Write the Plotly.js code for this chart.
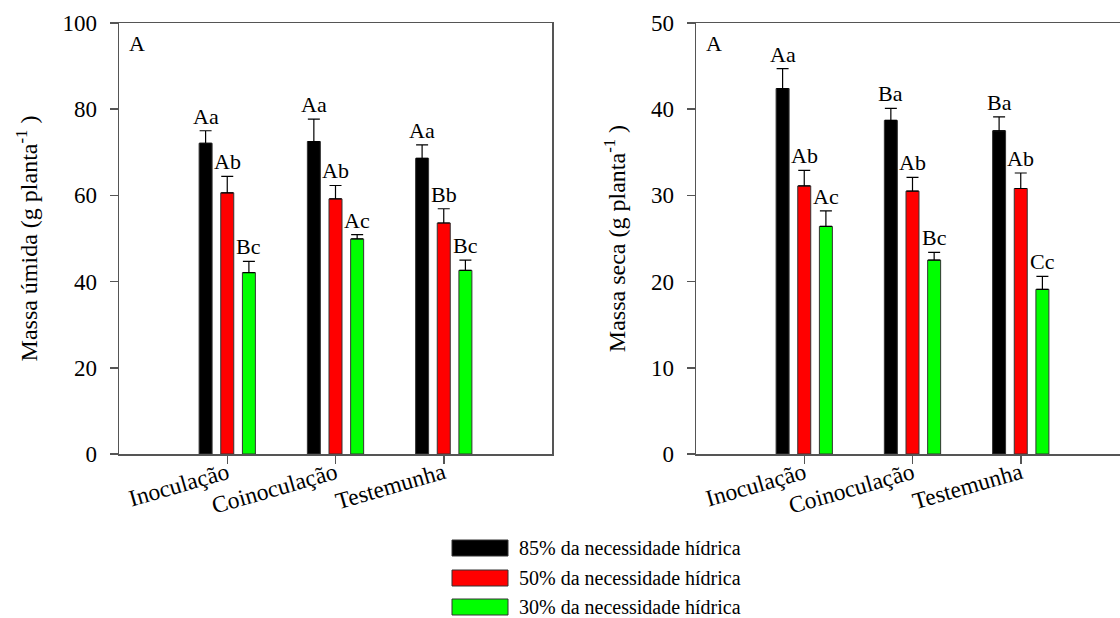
<!DOCTYPE html>
<html>
<head>
<meta charset="utf-8">
<script src="https://cdn.plot.ly/plotly-3.0.1.min.js"></script>
<style>
  html, body { margin: 0; padding: 0; overflow: hidden; background: #fff; }
  #chart { width: 1140px; height: 618px; }
</style>
</head>
<body>
<div id="chart"></div>
<script>
// Treatments on the x axis
const categories = ['Inoculação', 'Coinoculação', 'Testemunha'];

// Water-supply levels (one bar series each)
const seriesNames = ['85% da necessidade hídrica', '50% da necessidade hídrica', '30% da necessidade hídrica'];
const seriesColors = ['#000000', '#ff0000', '#00ff00'];

// Fresh mass (g planta-1): means and upper error
const umida85 = [72.1, 72.5, 68.6];
const umida50 = [60.6, 59.2, 53.6];
const umida30 = [42.1, 49.9, 42.6];
const umidaErr85 = [2.9, 5.2, 3.1];
const umidaErr50 = [3.8, 3.1, 3.3];
const umidaErr30 = [2.6, 1.0, 2.4];
const umidaLetters85 = ['Aa', 'Aa', 'Aa'];
const umidaLetters50 = ['Ab', 'Ab', 'Bb'];
const umidaLetters30 = ['Bc', 'Ac', 'Bc'];

// Dry mass (g planta-1): means and upper error
const seca85 = [42.4, 38.7, 37.5];
const seca50 = [31.1, 30.5, 30.8];
const seca30 = [26.4, 22.5, 19.1];
const secaErr85 = [2.3, 1.4, 1.6];
const secaErr50 = [1.8, 1.6, 1.8];
const secaErr30 = [1.8, 0.9, 1.5];
const secaLetters85 = ['Aa', 'Ba', 'Ba'];
const secaLetters50 = ['Ab', 'Ab', 'Ab'];
const secaLetters30 = ['Ac', 'Bc', 'Cc'];

const panels = [
  { xa: 'x', ya: 'y', values: [umida85, umida50, umida30], errs: [umidaErr85, umidaErr50, umidaErr30], letters: [umidaLetters85, umidaLetters50, umidaLetters30] },
  { xa: 'x2', ya: 'y2', values: [seca85, seca50, seca30], errs: [secaErr85, secaErr50, secaErr30], letters: [secaLetters85, secaLetters50, secaLetters30] }
];

const FONT = '"Liberation Serif", "Times New Roman", serif';
const AXIS_COLOR = '#555555';
const OUTLINE = '#333333';

// Plot-area geometry in pixels
const W = 1140, H = 618;
const M = { l: 119, r: 11, t: 23, b: 164 };
const plotW = W - M.l - M.r;
const plotH = H - M.t - M.b;
const panelW = 433;

const traces = [];
const annotations = [];

panels.forEach(function (p) {
  p.values.forEach(function (vals, j) {
    traces.push({
      type: 'bar',
      x: categories,
      y: vals,
      name: seriesNames[j],
      xaxis: p.xa,
      yaxis: p.ya,
      showlegend: false,
      marker: { color: seriesColors[j], line: { color: OUTLINE, width: 1 } },
      error_y: {
        type: 'data',
        symmetric: false,
        array: p.errs[j],
        arrayminus: vals.map(function () { return 0; }),
        color: '#000000',
        thickness: 1.2,
        width: 6
      },
      hoverinfo: 'x+y'
    });
    // Significance letters above each error bar
    vals.forEach(function (v, i) {
      annotations.push({
        xref: p.xa, yref: p.ya,
        x: i + (j - 1) * 0.2,
        y: v + p.errs[j][i],
        yanchor: 'bottom', xanchor: 'center',
        yshift: 0,
        text: p.letters[j][i],
        showarrow: false,
        font: { family: FONT, size: 22, color: '#000' }
      });
    });
  });
  // Panel letter in the upper-left corner
  annotations.push({
    xref: p.xa + ' domain', yref: p.ya + ' domain',
    x: 0.018, y: 0.985, xanchor: 'left', yanchor: 'top',
    text: 'A', showarrow: false,
    font: { family: FONT, size: 22, color: '#000' }
  });
});

// Legend drawn as wide swatches with labels below the panels
const legendRowsPx = [548, 578, 607];
const swatchLeftPx = 452, swatchRightPx = 508, swatchH = 16, textLeftPx = 517;
const shapes = [];
const px2paperX = function (px) { return (px - M.l) / plotW; };
const px2paperY = function (py) { return (H - M.b - py) / plotH; };
seriesNames.forEach(function (name, j) {
  const cy = legendRowsPx[j];
  shapes.push({
    type: 'rect', xref: 'paper', yref: 'paper',
    x0: px2paperX(swatchLeftPx), x1: px2paperX(swatchRightPx),
    y0: px2paperY(cy + swatchH / 2), y1: px2paperY(cy - swatchH / 2),
    fillcolor: seriesColors[j], line: { color: OUTLINE, width: 1 }
  });
  annotations.push({
    xref: 'paper', yref: 'paper',
    x: px2paperX(textLeftPx), y: px2paperY(cy),
    xanchor: 'left', yanchor: 'middle',
    text: name, showarrow: false,
    font: { family: FONT, size: 20, color: '#000' }
  });
});

function xAxis(domain, anchor) {
  return {
    domain: domain, anchor: anchor,
    type: 'category',
    range: [-1, 3],
    showline: true, mirror: true, linecolor: AXIS_COLOR, linewidth: 1.5,
    ticks: 'outside', ticklen: 8, tickcolor: AXIS_COLOR, tickwidth: 1.5,
    tickangle: -16,
    ticklabelstandoff: -13,
    tickfont: { family: FONT, size: 23.5, color: '#000' },
    showgrid: false, zeroline: false, automargin: false, fixedrange: true
  };
}
function yAxis(range, dtick, titleText, anchor) {
  return {
    anchor: anchor, domain: [0, 1],
    range: range, dtick: dtick,
    showline: true, mirror: true, linecolor: AXIS_COLOR, linewidth: 1.5,
    ticks: 'outside', ticklen: 8, tickcolor: AXIS_COLOR, tickwidth: 1.5,
    ticklabelstandoff: 8,
    tickfont: { family: FONT, size: 23, color: '#000' },
    title: { text: titleText, standoff: 18, font: { family: FONT, size: 24, color: '#000' } },
    showgrid: false, zeroline: false, automargin: false, fixedrange: true
  };
}

const layout = {
  width: W, height: H,
  margin: M,
  paper_bgcolor: '#ffffff', plot_bgcolor: '#ffffff',
  barmode: 'group', bargap: 0.4, bargroupgap: 0.4,
  showlegend: false,
  font: { family: FONT, color: '#000' },
  xaxis: xAxis([0, panelW / plotW], 'y'),
  yaxis: yAxis([0, 100], 20, 'Massa úmida (g planta<sup>-1</sup> )', 'x'),
  xaxis2: xAxis([1 - panelW / plotW, 1], 'y2'),
  yaxis2: yAxis([0, 50], 10, 'Massa seca (g planta<sup>-1</sup> )', 'x2'),
  annotations: annotations,
  shapes: shapes
};

Plotly.newPlot('chart', traces, layout, { staticPlot: true, displayModeBar: false });
</script>
</body>
</html>
